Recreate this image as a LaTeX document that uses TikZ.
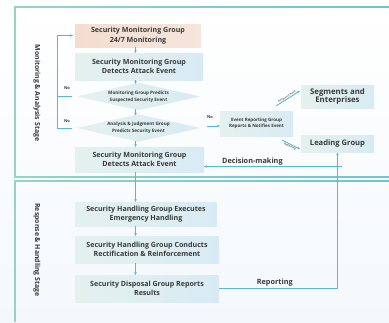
\documentclass[tikz,border=0pt]{standalone}
\usepackage{fontspec}
\setmainfont{Open Sans}
\usetikzlibrary{arrows.meta,calc}
\definecolor{txt}{HTML}{3A3A3A}
\definecolor{boxL}{HTML}{E4F1EE}
\definecolor{boxR}{HTML}{D8EBF4}
\definecolor{peachL}{HTML}{F3DDD0}
\definecolor{peachR}{HTML}{F6E5DB}
\definecolor{mint}{HTML}{94D5C2}
\definecolor{sky}{HTML}{6EC2DD}
\definecolor{lnk}{HTML}{58B9D2}
\definecolor{bgA}{HTML}{FFFFFF}
\definecolor{bgB}{HTML}{F4F8FC}
\begin{document}
\begin{tikzpicture}[x=1pt,y=-1pt,
  boxbase/.style={rectangle, inner sep=0pt, align=center, text=txt},
  bigbox/.style={boxbase, left color=boxL, right color=boxR, font=\fontsize{7.1}{9.6}\selectfont\bfseries},
  peachbox/.style={boxbase, left color=peachL, right color=peachR, font=\fontsize{7.1}{9.6}\selectfont\bfseries},
  smallbox/.style={boxbase, left color=boxL, right color=boxR, font=\fontsize{4.5}{6.6}\selectfont\bfseries},
  dmdtext/.style={boxbase, font=\fontsize{4.6}{6.8}\selectfont\bfseries},
  arr/.style={draw=lnk, line width=0.9pt, -{Stealth[length=2.6pt,width=2.8pt]}},
  plain/.style={draw=lnk, line width=0.9pt},
  lbl/.style={text=txt, inner sep=0.5pt, font=\fontsize{7.3}{8.5}\selectfont\bfseries},
  nolbl/.style={text=txt, inner sep=0pt, font=\fontsize{4}{5}\selectfont\bfseries},
  tinylbl/.style={text=txt!80, inner sep=0.6pt, font=\fontsize{2.6}{3}\selectfont\bfseries},
  stagelbl/.style={text=txt, inner sep=0pt, rotate=-90, font=\fontsize{6.9}{8}\selectfont\bfseries}
]
\useasboundingbox (0,0) rectangle (389,322);
\shade[top color=bgA, bottom color=bgB] (0,0) rectangle (389,322);
% frames
\shade[left color=mint, right color=sky] (15,6.2) rectangle (389,7.8);
\shade[left color=mint, right color=sky] (15,176.2) rectangle (389,177.8);
\shade[left color=mint, right color=sky] (15,180.2) rectangle (389,181.8);
\fill[mint] (14.2,6.2) rectangle (15.8,177.8);
\fill[mint] (14.2,180.2) rectangle (15.8,322);
% stage labels
\node[stagelbl] (st1) at (37,93) {Monitoring \& Analysis Stage};
\node[stagelbl] (st2) at (37,250) {Response \& Handling Stage};
% nodes
\node[peachbox, minimum width=126pt, minimum height=23pt] (b1) at (138,35.5) {Security Monitoring Group\\24/7 Monitoring};
\node[bigbox, minimum width=128pt, minimum height=27pt] (b2) at (139,66.5) {Security Monitoring Group\\Detects Attack Event};
\node[boxbase, minimum width=123pt, minimum height=27pt] (d1) at (138.5,96.5) {};
\node[boxbase, minimum width=123pt, minimum height=27pt] (d2) at (138.5,128) {};
\shade[left color=boxL, right color=boxR] (d1.west) -- (d1.north) -- (d1.east) -- (d1.south) -- cycle;
\shade[left color=boxL, right color=boxR] (d2.west) -- (d2.north) -- (d2.east) -- (d2.south) -- cycle;
\node[dmdtext] (d1t) at (d1.center) {Monitoring Group Predicts\\Suspected Security Event};
\node[dmdtext] (d2t) at (d2.center) {Analysis \& Judgment Group\\Predicts Security Event};
\node[bigbox, minimum width=129pt, minimum height=25pt] (b3) at (139.5,159.5) {Security Monitoring Group\\Detects Attack Event};
\node[smallbox, minimum width=73pt, minimum height=25pt] (er) at (256.5,123.5) {Event Reporting Group\\Reports \& Notifies Event};
\node[bigbox, minimum width=73pt, minimum height=23pt, font=\fontsize{7.8}{8.6}\selectfont\bfseries] (seg) at (337.5,96.5) {Segments and\\Enterprises};
\node[bigbox, minimum width=73pt, minimum height=17pt, font=\fontsize{7.6}{8.6}\selectfont\bfseries] (lead) at (337.5,144) {Leading Group};
\node[bigbox, minimum width=142pt, minimum height=24pt] (b4) at (146,214) {Security Handling Group Executes\\Emergency Handling};
\node[bigbox, minimum width=144pt, minimum height=27pt] (b5) at (147,249.5) {Security Handling Group Conducts\\Rectification \& Reinforcement};
\node[bigbox, minimum width=144pt, minimum height=27pt] (b6) at (147,288.5) {Security Disposal Group Reports\\Results};
% spine coordinate
\coordinate (spine) at (135.5,0);
\draw[arr] (b1.south -| spine) -- (b2.north -| spine);
\draw[arr] (b2.south -| spine) -- ([yshift=-1pt]d1.north -| spine);
\draw[arr] ([yshift=1pt]d1.south -| spine) -- ([yshift=-1pt]d2.north -| spine);
\draw[arr] ([yshift=1pt]d2.south -| spine) -- (b3.north -| spine);
\draw[arr] (b3.south -| spine) -- (b4.north -| spine);
\draw[arr] (b4.south -| spine) -- (b5.north -| spine);
\draw[arr] (b5.south -| spine) -- (b6.north -| spine);
% No loop
\coordinate (lx) at (57,0);
\draw[arr, shorten >=2pt] ([xshift=-5pt]d2.west) -- (d2.west -| lx) -- (b1.west -| lx) -- (b1.west);
\draw[plain] ([xshift=-5pt]d1.west) -- (d1.west -| lx);
\node[nolbl] (no1) at (67,88.5) {No};
\node[nolbl] (no2) at (67,121.5) {No};
% No to event reporting
\draw[arr] ([xshift=7pt,yshift=2pt]d2.east) -- ([yshift=-2.5pt]er.west);
\node[nolbl] (no3) at (210,117) {No};
% diagonals
\draw[arr] ($(er.north east)+(-17,-5)$) -- node[tinylbl, sloped, above] {Announcement} ($(seg.west)+(-1,-5.5)$);
\draw[arr] ($(er.south east)+(-11,4)$) -- node[tinylbl, sloped, below] {Reporting} ($(lead.west)+(-1,5)$);
% reporting and decision-making
\draw[arr] (b6.east) -| node[lbl, pos=0.235, above=1pt] {Reporting} (lead.south);
\coordinate (dm) at (342,166.5);
\draw[arr] (dm) -- node[lbl, pos=0.65, above=0.5pt] {Decision-making} (b3.east |- dm);
\end{tikzpicture}
\end{document}
